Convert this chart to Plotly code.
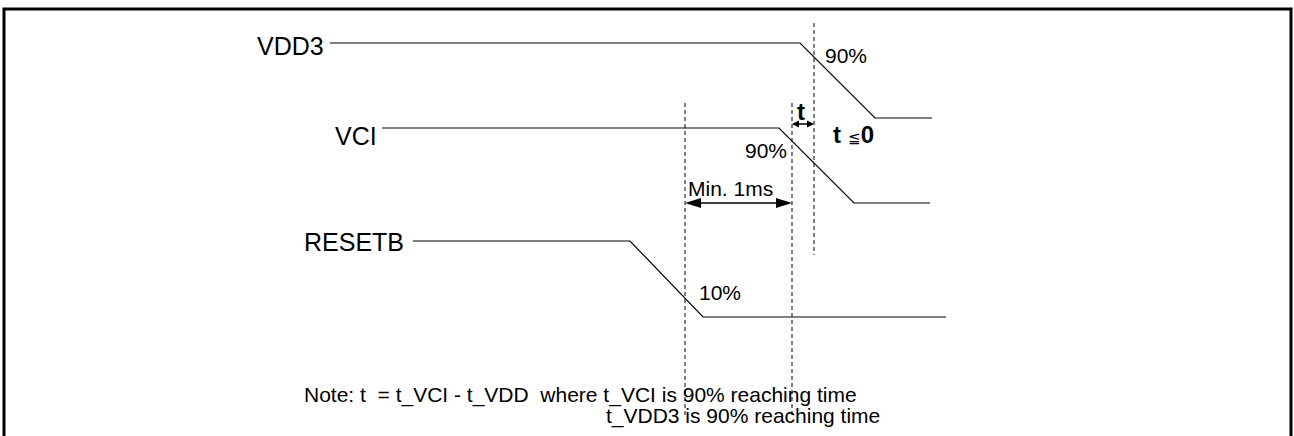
import plotly.graph_objects as go

# ---- data (pixel-space timing diagram) ----
signal_names = ["VDD3", "VCI", "RESETB"]
vdd3_t = [330, 800, 875, 932]
vdd3_v = [43, 43, 118, 118]
vci_t = [382, 779, 854, 930]
vci_v = [128, 128, 203, 203]
resetb_t = [413, 630, 703, 946]
resetb_v = [241, 241, 317, 317]

label_x = [255, 333, 302]
label_y = [46, 136, 242]

# dashed markers: x, y_top, y_bottom
dash_x = [685, 792, 814]
dash_top = [103, 103, 23]
dash_bot = [418, 418, 255]

FONT = "Liberation Sans, Arial, sans-serif"
W, H = 1294, 436

fig = go.Figure()
for tx, vy in [(vdd3_t, vdd3_v), (vci_t, vci_v), (resetb_t, resetb_v)]:
    fig.add_trace(go.Scatter(x=tx, y=vy, mode="lines",
                             line=dict(color="black", width=1.2),
                             hoverinfo="skip", showlegend=False))

for dx, t0, t1 in zip(dash_x, dash_top, dash_bot):
    fig.add_trace(go.Scatter(x=[dx, dx], y=[t0, t1], mode="lines",
                             line=dict(color="black", width=1, dash="4px,3px"),
                             hoverinfo="skip", showlegend=False))

shapes = []
# border
shapes.append(dict(type="rect", xref="x", yref="y", x0=4, y0=9, x1=1291, y1=445,
                   line=dict(color="black", width=3)))


def double_arrow(x0, x1, y, hl, hw):
    res = [dict(type="line", xref="x", yref="y", x0=x0 + hl * 0.5, x1=x1 - hl * 0.5,
                y0=y, y1=y, line=dict(color="black", width=1.5))]
    res.append(dict(type="path", xref="x", yref="y",
                    path=f"M {x0} {y} L {x0+hl} {y-hw} L {x0+hl} {y+hw} Z",
                    fillcolor="black", line=dict(width=0)))
    res.append(dict(type="path", xref="x", yref="y",
                    path=f"M {x1} {y} L {x1-hl} {y-hw} L {x1-hl} {y+hw} Z",
                    fillcolor="black", line=dict(width=0)))
    return res


shapes += double_arrow(dash_x[0], dash_x[1], 203, 16, 5)
shapes += double_arrow(dash_x[1], dash_x[2], 124, 7, 3.5)

ann = []
for name, lx, ly in zip(signal_names, label_x, label_y):
    ann.append(dict(x=lx, y=ly, text=name, showarrow=False, xanchor="left", yanchor="middle",
                    font=dict(family=FONT, size=25, color="black")))

small = [("90%", 823, 55), ("90%", 743, 150), ("Min. 1ms", 686, 188), ("10%", 697, 292)]
for txt, x, y in small:
    ann.append(dict(x=x, y=y, text=txt, showarrow=False, xanchor="left", yanchor="middle",
                    font=dict(family=FONT, size=21, color="black")))

ann.append(dict(x=801, y=111, text="<b>t</b>", showarrow=False, xanchor="center", yanchor="middle",
                font=dict(family=FONT, size=24, color="black")))
ann.append(dict(x=831, y=134,
                text="<b>t </b><span style='font-size:15px'>≦</span><b>0</b>",
                showarrow=False, xanchor="left", yanchor="middle",
                font=dict(family=FONT, size=24, color="black")))

ann.append(dict(x=302, y=395, text="Note: t  = t_VCI - t_VDD  where t_VCI is 90% reaching time",
                showarrow=False, xanchor="left", yanchor="middle",
                font=dict(family=FONT, size=21, color="black")))
ann.append(dict(x=604, y=416, text="t_VDD3 is 90% reaching time",
                showarrow=False, xanchor="left", yanchor="middle",
                font=dict(family=FONT, size=21, color="black")))

fig.update_layout(
    width=W, height=H, margin=dict(l=0, r=0, t=0, b=0),
    paper_bgcolor="white", plot_bgcolor="white",
    xaxis=dict(range=[0, W], visible=False, fixedrange=True),
    yaxis=dict(range=[H, 0], visible=False, fixedrange=True),
    shapes=shapes, annotations=ann, showlegend=False,
)
fig.write_html("out.html", config={"displayModeBar": False},
               post_script="document.body.style.margin='0';document.body.style.overflow='hidden';")
